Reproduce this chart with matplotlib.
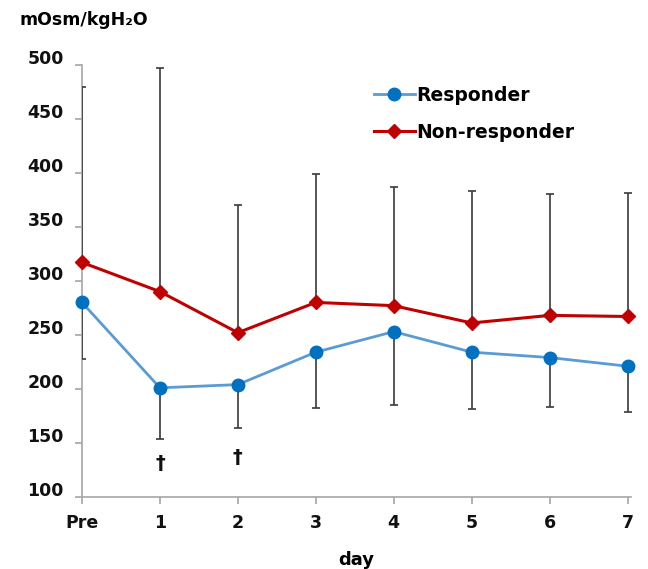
import numpy as np
import matplotlib.pyplot as plt
import matplotlib.transforms as mtransforms

# data
days = ["Pre", "1", "2", "3", "4", "5", "6", "7"]
responder_mean = [280, 201, 204, 234, 253, 234, 229, 221]
responder_sd = [52, 47, 40, 52, 68, 53, 46, 42]
nonresp_mean = [317, 290, 252, 280, 277, 261, 268, 267]
nonresp_sd = [162, 207, 118, 119, 110, 122, 112, 114]
dagger_days = [1, 2]
dagger_y = [131, 137]
yticks = [100, 150, 200, 250, 300, 350, 400, 450, 500]

x = np.arange(len(days))
zeros = np.zeros(len(days))

fig = plt.figure(figsize=(6.48, 5.69), dpi=100)
ax = fig.add_axes([0.1265, 0.1265, 0.848, 0.760])

# error bars over the spine so the Pre bar shows on the y axis
err_kw = dict(fmt="none", ecolor="#3a3a3a", elinewidth=1.2, capsize=3, capthick=1.2, zorder=2.6)
ax.errorbar(x, nonresp_mean, yerr=[zeros, nonresp_sd], **err_kw)
ax.errorbar(x, responder_mean, yerr=[responder_sd, zeros], **err_kw)

ax.plot(x, responder_mean, color="#5b9bd5", lw=2, marker="o", ms=9,
        mfc="#0070c0", mec="#0070c0", label="Responder", zorder=3, clip_on=False)
ax.plot(x, nonresp_mean, color="#c00000", lw=2.2, marker="D", ms=7,
        mfc="#c00000", mec="#c00000", label="Non-responder", zorder=3, clip_on=False)

for d, yv in zip(dagger_days, dagger_y):
    ax.text(d, yv, "†", ha="center", va="center", fontsize=14, fontweight="bold", color="#111111")

ax.set_xlim(0, 7.05)
ax.set_ylim(100, 500)
ax.set_xticks(x)
ax.set_xticklabels(days)
ax.set_yticks(yticks)

for s in ["top", "right"]:
    ax.spines[s].set_visible(False)
for s in ["left", "bottom"]:
    ax.spines[s].set_color("#a6a6a6")
    ax.spines[s].set_linewidth(1.2)

ax.tick_params(axis="both", colors="#a6a6a6", length=5, width=1.2, labelcolor="#111111",
               labelsize=12.5)
ax.tick_params(axis="y", pad=8)
ax.tick_params(axis="x", pad=7)
offset = mtransforms.ScaledTranslation(0, 0.08, fig.dpi_scale_trans)
for lab in ax.get_yticklabels():
    lab.set_fontweight("bold")
    lab.set_transform(lab.get_transform() + offset)
for lab in ax.get_xticklabels():
    lab.set_fontweight("bold")

ax.set_xlabel("day", fontsize=13, fontweight="bold", labelpad=14)
fig.text(0.03, 0.965, "mOsm/kgH₂O", fontsize=12.5, fontweight="bold", va="center", ha="left")

leg = ax.legend(loc="upper left", bbox_to_anchor=(0.5, 0.99), frameon=False,
                prop={"size": 13.5, "weight": "bold"}, handlelength=2.2, handletextpad=0.1,
                labelspacing=0.95)

fig.savefig("out.png", dpi=100)
